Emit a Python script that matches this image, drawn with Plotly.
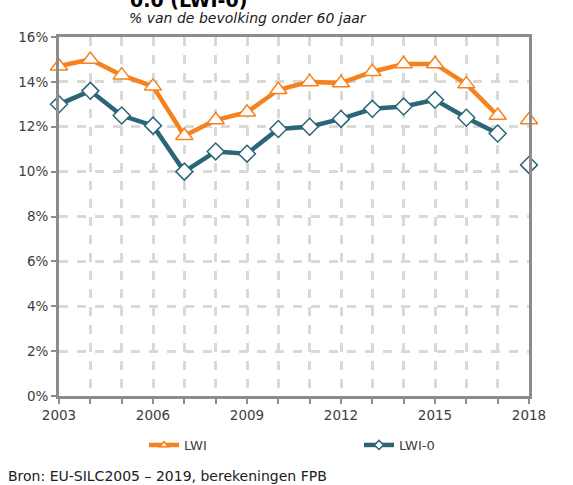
import plotly.graph_objects as go

years = list(range(2003, 2019))
lwi = [14.7, 15.0, 14.3, 13.8, 11.6, 12.3, 12.65, 13.65, 14.0, 13.95, 14.45, 14.8, 14.8, 13.9, 12.5, 12.3]
lwi0 = [13.0, 13.6, 12.5, 12.05, 10.0, 10.9, 10.8, 11.9, 12.0, 12.35, 12.8, 12.9, 13.2, 12.4, 11.7, 10.3]
x_tick_labels = [str(y) if (y - 2003) % 3 == 0 else "" for y in years]
y_ticks = list(range(0, 17, 2))
y_tick_labels = [f"{v}%" for v in y_ticks]

ORANGE = "#F5821F"
TEAL = "#2B6577"
FONT = "DejaVu Sans"

W, H = 573, 485
ML, MR, MT, MB = 59, 44, 37, 89
PW = W - ML - MR
PH = H - MT - MB

fig = go.Figure()

series = [
    ("LWI", lwi, ORANGE, "triangle-up", 15, 7),
    ("LWI-0", lwi0, TEAL, "diamond", 13, 7),
]
for name, vals, col, sym, size, lsize in series:
    fig.add_trace(go.Scatter(
        x=years[:-1], y=vals[:-1], name=name, mode="lines+markers", showlegend=False,
        line=dict(color=col, width=4.5),
        marker=dict(symbol=sym, size=size, color="white",
                    line=dict(color=col, width=1.5)),
        cliponaxis=False,
    ))
    fig.add_trace(go.Scatter(
        x=years[-1:], y=vals[-1:], name=name, mode="markers", showlegend=False,
        marker=dict(symbol=sym, size=size, color="white",
                    line=dict(color=col, width=1.5)),
        cliponaxis=False,
    ))
    # legend entry (small marker as in the reference legend)
    fig.add_trace(go.Scatter(
        x=[None], y=[None], name=name, mode="lines+markers",
        line=dict(color=col, width=4.5),
        marker=dict(symbol=sym, size=lsize, color="white",
                    line=dict(color=col, width=1.5)),
    ))

fig.update_layout(
    width=W, height=H,
    margin=dict(l=ML, r=MR, t=MT, b=MB, autoexpand=False),
    paper_bgcolor="white", plot_bgcolor="white",
    font=dict(family=FONT, size=13, color="#404040"),
    showlegend=True,
    legend=dict(orientation="h", x=(144 - ML) / PW, xanchor="left",
                y=-(445 - MT - PH) / PH, yanchor="middle",
                entrywidth=170, entrywidthmode="pixels",
                font=dict(family=FONT, size=13, color="#404040"),
                bgcolor="rgba(0,0,0,0)"),
    xaxis=dict(range=[2003, 2018], tickvals=years, ticktext=x_tick_labels,
               showgrid=True, gridcolor="#d9d9d9", gridwidth=2.5, griddash="dash",
               showline=True, mirror=True, linecolor="#8c8c8c", linewidth=3,
               ticks="outside", ticklen=5, tickwidth=2, tickcolor="#8c8c8c",
               zeroline=False, tickfont=dict(size=13.5, color="#404040")),
    yaxis=dict(range=[0, 16], tickvals=y_ticks, ticktext=y_tick_labels,
               showgrid=True, gridcolor="#d9d9d9", gridwidth=2.5, griddash="dash",
               showline=True, mirror=True, linecolor="#8c8c8c", linewidth=3,
               ticks="outside", ticklen=5, tickwidth=2, tickcolor="#8c8c8c",
               zeroline=False, tickfont=dict(size=13.5, color="#404040")),
)

fig.add_annotation(text="<b>0.0 (LWI-0)</b>", xref="paper", yref="paper",
                   x=(128 - ML) / PW, y=1 + MT / PH, xanchor="left", yanchor="middle",
                   showarrow=False, font=dict(family=FONT, size=19, color="black"))
fig.add_annotation(text="<i>% van de bevolking onder 60 jaar</i>", xref="paper", yref="paper",
                   x=(127 - ML) / PW, y=1 + (MT - 18) / PH, xanchor="left", yanchor="middle",
                   showarrow=False, font=dict(family=FONT, size=14, color="#202020"))
fig.add_annotation(text="Bron: EU-SILC2005 – 2019, berekeningen FPB", xref="paper", yref="paper",
                   x=(6 - ML) / PW, y=-(476 - MT - PH) / PH, xanchor="left", yanchor="middle",
                   showarrow=False, font=dict(family=FONT, size=14, color="#202020"))

fig.write_html("out.html", config={"displayModeBar": False},
               post_script="document.body.style.margin='0';")
